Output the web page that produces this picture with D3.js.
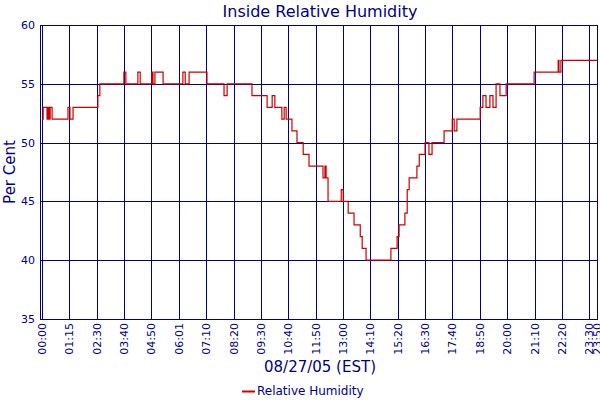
<!DOCTYPE html>
<html>
<head>
<meta charset="utf-8">
<script src="https://cdn.jsdelivr.net/npm/d3@7"></script>
<style>
body { margin: 0; background: #fff; }
text { font-family: "DejaVu Sans", Verdana, sans-serif; fill: #000080; }
</style>
</head>
<body>
<svg id="chart" width="600" height="400"></svg>
<script>
// time in minutes after midnight, humidity in %
var times  = [0,3,13,15,18,21,26,67,72,80,144,149,211,216,247,253,283,286,291,312,363,369,379,425,469,477,541,580,593,600,618,624,629,644,657,673,688,724,729,732,737,771,776,789,804,820,825,835,899,915,920,935,941,946,966,972,987,997,1005,1036,1057,1062,1069,1129,1136,1144,1154,1162,1170,1180,1196,1268,1330,1332,1337,1430];
var values = [52,53,52,53,52,53,52,53,52,53,54,55,56,55,56,55,56,55,56,55,56,55,56,55,54,55,54,53,54,53,52,53,52,51,50,49,48,47,48,47,45,46,45,44,43,42,41,40,41,42,43,44,46,47,48,49,50,49,50,51,52,51,52,53,54,53,54,53,55,54,55,56,57,56,57,57];
var tickLabels = ["00:00","01:15","02:30","03:40","04:50","06:01","07:10","08:20","09:30","10:40","11:50","13:00","14:10","15:20","16:30","17:40","18:50","20:00","21:10","22:20","23:30","23:50"];
var tickMinutes = [0,70.5,141,211.5,282,352.5,423,493.5,564,634.5,705,775.5,846,916.5,987,1057.5,1128,1198.5,1269,1339.5,1410,1430];
var yTicks = [35,40,45,50,55,60];

var navy = "#000080";
var svg = d3.select("#chart");
var plotLeft = 42, plotRight = 597, plotTop = 25, plotBottom = 319;

var x = d3.scaleLinear().domain([0, 1430]).range([plotLeft, plotRight]);
var y = d3.scaleLinear().domain([35, 60]).range([plotBottom, plotTop]);

// grid
svg.append("g").selectAll("line").data(tickMinutes).enter().append("line")
    .attr("x1", function(d) { return Math.round(x(d)) + 0.5; })
    .attr("x2", function(d) { return Math.round(x(d)) + 0.5; })
    .attr("y1", plotTop).attr("y2", plotBottom)
    .attr("stroke", navy).attr("stroke-width", 1);
svg.append("g").selectAll("line").data(yTicks).enter().append("line")
    .attr("x1", plotLeft - 2).attr("x2", plotRight + 1)
    .attr("y1", function(d) { return Math.round(y(d)) + 0.5; })
    .attr("y2", function(d) { return Math.round(y(d)) + 0.5; })
    .attr("stroke", navy).attr("stroke-width", 1);
svg.append("line").attr("x1", plotLeft - 1.5).attr("x2", plotLeft - 1.5)
    .attr("y1", plotTop).attr("y2", plotBottom).attr("stroke", navy);

// y labels
svg.append("g").selectAll("text").data(yTicks).enter().append("text")
    .attr("x", 35).attr("y", function(d) { return y(d) + 4; })
    .attr("text-anchor", "end").attr("font-size", 11)
    .text(function(d) { return d; });

// x labels
svg.append("g").selectAll("text").data(tickMinutes).enter().append("text")
    .attr("transform", function(d) { return "translate(" + (x(d) + 4) + ",323) rotate(-90)"; })
    .attr("text-anchor", "end").attr("font-size", 11)
    .text(function(d, i) { return tickLabels[i]; });

// series
var pts = times.map(function(t, i) { return [t, values[i]]; });
var line = d3.line()
    .x(function(d) { return x(d[0]); })
    .y(function(d) { return y(d[1]); })
    .curve(d3.curveStepAfter);
svg.append("path").datum(pts).attr("d", line)
    .attr("fill", "none").attr("stroke", "#cc0000").attr("stroke-width", 1.2);

// titles
svg.append("text").attr("x", 320).attr("y", 17).attr("text-anchor", "middle")
    .attr("font-size", 16).text("Inside Relative Humidity");
svg.append("text").attr("transform", "translate(15,172) rotate(-90)")
    .attr("text-anchor", "middle").attr("font-size", 15).text("Per Cent");
svg.append("text").attr("x", 320).attr("y", 372).attr("text-anchor", "middle")
    .attr("font-size", 15).text("08/27/05 (EST)");

// legend
svg.append("line").attr("x1", 242).attr("x2", 255).attr("y1", 391.5).attr("y2", 391.5)
    .attr("stroke", "#cc0000").attr("stroke-width", 2);
svg.append("text").attr("x", 257).attr("y", 395).attr("font-size", 12).text("Relative Humidity");
</script>
</body>
</html>
